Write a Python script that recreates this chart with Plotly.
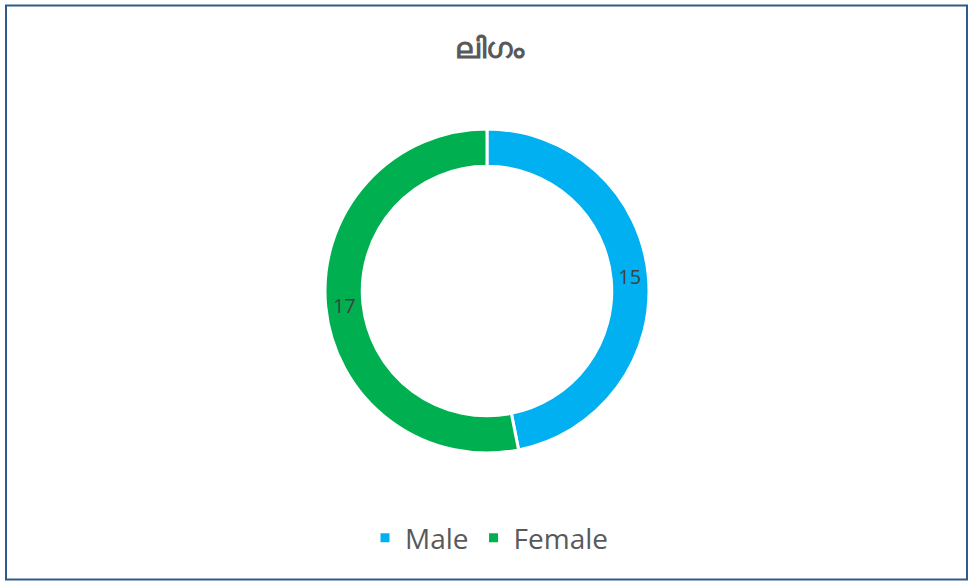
import plotly.graph_objects as go

categories = ["Male", "Female"]
values = [15, 17]
colors = ["#00B0F0", "#00B050"]
title_text = "ലിഗം"

W, H = 970, 581

def px_x(x):
    return x / W

def px_y(y):
    return 1 - y / H

fig = go.Figure()
fig.add_trace(go.Pie(
    labels=categories,
    values=values,
    hole=0.77,
    sort=False,
    direction="clockwise",
    rotation=0,
    marker=dict(colors=colors, line=dict(color="white", width=3)),
    textinfo="value",
    textposition="inside",
    insidetextorientation="horizontal",
    textfont=dict(family="Open Sans, Noto Sans, sans-serif", size=20, color="#404040"),
    domain=dict(x=[px_x(325), px_x(649)], y=[px_y(453), px_y(129)]),
    hoverinfo="label+value",
))

fig.update_layout(
    width=W, height=H,
    margin=dict(l=0, r=0, t=0, b=0),
    paper_bgcolor="white",
    plot_bgcolor="white",
    title=dict(text="<b>" + title_text + "</b>", x=px_x(489), xanchor="center",
               y=px_y(48), yanchor="middle",
               font=dict(family="Noto Sans, DejaVu Sans, sans-serif", size=29, color="#595959")),
    showlegend=True,
    legend=dict(orientation="h", x=px_x(489), xanchor="center", y=px_y(538), yanchor="middle",
                font=dict(family="Open Sans, Noto Sans, sans-serif", size=28, color="#595959"),
                itemwidth=30, traceorder="normal"),
    shapes=[dict(type="rect", xref="paper", yref="paper",
                 x0=px_x(6), x1=px_x(967), y0=px_y(579.5), y1=px_y(5.5),
                 line=dict(color="#2E5C8A", width=2), fillcolor="rgba(0,0,0,0)")],
)

fig.write_html("out.html", config={"displayModeBar": False},
               post_script="document.body.style.margin='0px';document.body.style.overflow='hidden';")
